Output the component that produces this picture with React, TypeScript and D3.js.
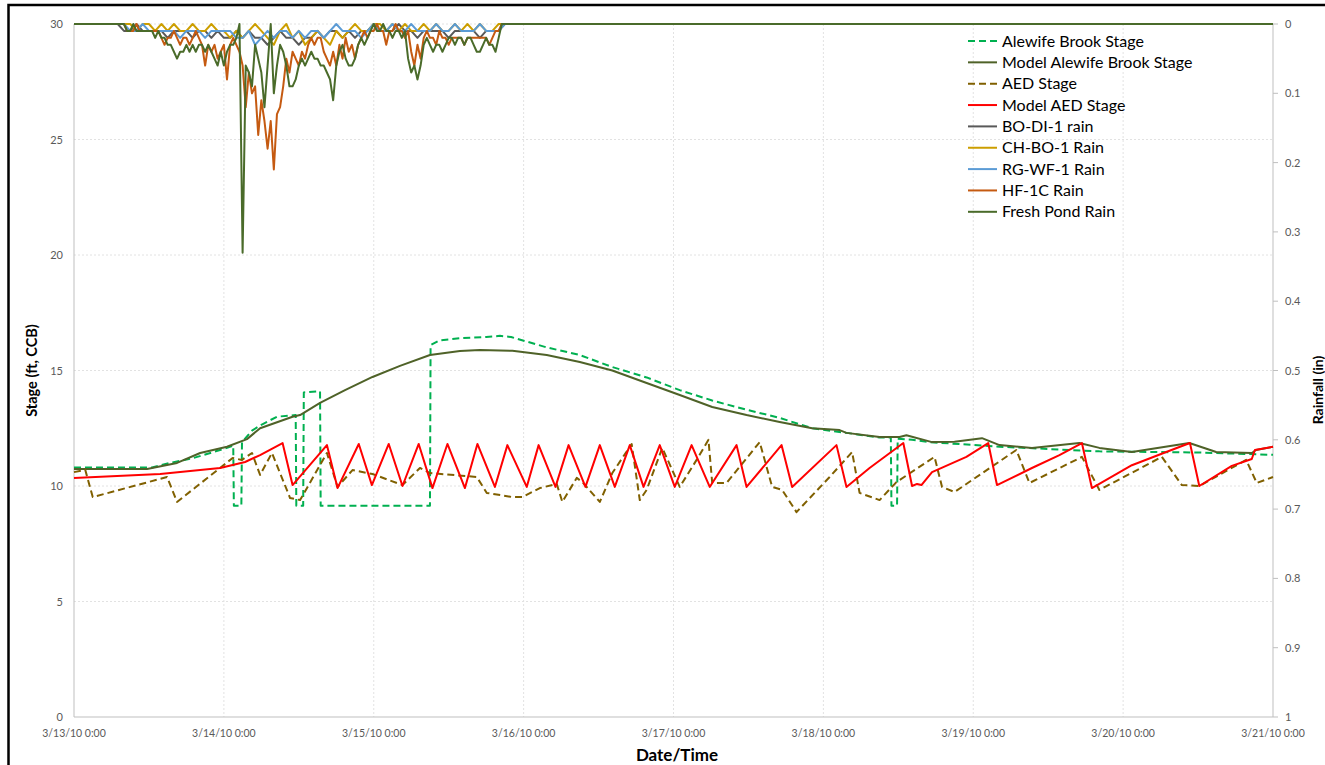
import React from 'react';
import * as d3 from 'd3';

// ---- Axis ticks ----
const dayLabels = [
  '3/13/10 0:00', '3/14/10 0:00', '3/15/10 0:00', '3/16/10 0:00', '3/17/10 0:00',
  '3/18/10 0:00', '3/19/10 0:00', '3/20/10 0:00', '3/21/10 0:00',
];
const stageTicks = [0, 5, 10, 15, 20, 25, 30];
const rainTicks = [0, 0.1, 0.2, 0.3, 0.4, 0.5, 0.6, 0.7, 0.8, 0.9, 1];
const rainTickLabels = ['0', '0.1', '0.2', '0.3', '0.4', '0.5', '0.6', '0.7', '0.8', '0.9', '1'];

// ---- Stage series (hours since 3/13 0:00, ft CCB) ----
const alewifeHours = [0, 12.5, 15.4, 19, 24.5, 25.5, 25.6, 26.8, 26.9, 28.5, 30, 32.5, 35.5, 35.6, 36.7, 36.8, 39.4, 39.5, 57.0, 57.1, 58.5, 62, 66, 68.2, 70, 75.7, 81, 86.2, 91.7, 97, 102.2, 107.7, 113, 118.2, 123.7, 129, 130.8, 130.9, 131.8, 131.9, 134.2, 137, 148.2, 164.2, 180.2, 192];
const alewifeStage = [10.8, 10.8, 11.0, 11.2, 11.65, 11.75, 9.15, 9.15, 11.9, 12.4, 12.65, 13.0, 13.07, 9.15, 9.15, 14.05, 14.1, 9.15, 9.15, 16.1, 16.3, 16.4, 16.45, 16.5, 16.45, 16.0, 15.67, 15.15, 14.7, 14.15, 13.7, 13.3, 12.95, 12.5, 12.3, 12.1, 12.1, 9.15, 9.15, 12.05, 12.0, 11.9, 11.7, 11.5, 11.45, 11.35];

const modelAlewifeHours = [0, 11.7, 16.5, 20.2, 24.5, 27.7, 29.8, 35.0, 36.2, 39.4, 43.4, 47.8, 52.2, 57, 61.8, 65, 70.2, 75.7, 81, 86.2, 91.7, 97, 102.2, 107.7, 113, 118.2, 122.6, 123.7, 129, 132.2, 133.3, 137.4, 141, 145.4, 148.2, 153.4, 161, 164.2, 169.4, 178.6, 182.9, 188.6, 189.3, 192];
const modelAlewifeStage = [10.74, 10.74, 11.0, 11.43, 11.7, 12.03, 12.5, 13.0, 13.07, 13.6, 14.15, 14.72, 15.2, 15.67, 15.84, 15.89, 15.85, 15.67, 15.37, 15.0, 14.46, 13.94, 13.42, 13.07, 12.77, 12.5, 12.42, 12.3, 12.12, 12.12, 12.2, 11.9, 11.92, 12.07, 11.77, 11.65, 11.86, 11.65, 11.47, 11.86, 11.47, 11.43, 11.56, 11.7];

const aedHours = [0, 1.8, 3.0, 14.9, 16.5, 25.4, 26.9, 28.5, 29.8, 31.7, 34.6, 36.2, 40.5, 42.2, 44.6, 47.8, 52.6, 55.4, 57.0, 64.5, 66.1, 70.2, 71.8, 74.6, 77.3, 78.2, 80.5, 81.4, 84.2, 86.2, 89.3, 90.6, 91.7, 94.2, 95.8, 97.0, 99.7, 101.6, 102.2, 104.5, 109.8, 111.8, 113.4, 115.7, 121.0, 124.6, 125.8, 129.0, 131.7, 137.8, 139.0, 141.0, 150.9, 153.0, 161.4, 164.2, 174.2, 177.4, 180.2, 187.7, 189.4, 192];
const aedStage = [10.6, 10.7, 9.52, 10.39, 9.31, 11.21, 11.13, 11.43, 10.48, 11.43, 9.48, 9.39, 11.43, 9.96, 10.69, 10.52, 10.04, 10.78, 10.56, 10.39, 9.7, 9.52, 9.52, 9.91, 10.09, 9.31, 10.35, 10.17, 9.31, 10.56, 11.82, 9.39, 9.83, 11.65, 10.69, 9.96, 11.13, 12.0, 10.13, 10.13, 11.9, 9.96, 9.83, 8.87, 10.39, 11.47, 9.7, 9.39, 10.17, 11.26, 9.96, 9.74, 11.56, 10.13, 11.26, 9.83, 11.26, 10.04, 10.0, 11.13, 10.13, 10.39];

const modelAedHours = [0, 13.8, 23.4, 27.4, 29.8, 33.4, 35.0, 40.5, 42.2, 45.6, 47.7, 50.4, 52.6, 55.2, 57.4, 59.8, 62.6, 64.6, 67.4, 69.4, 72.5, 74.4, 77.1, 79.2, 81.9, 84.2, 86.6, 89.0, 91.2, 93.8, 96.2, 98.9, 101.8, 106.1, 107.7, 113.3, 115.0, 122.1, 123.7, 127.4, 132.8, 134.2, 135.0, 135.7, 137.4, 142.9, 146.4, 147.8, 153.4, 157.8, 161.4, 163.0, 169.4, 174.9, 178.7, 180.2, 185.4, 188.6, 189.1, 192];
const modelAedStage = [10.35, 10.52, 10.78, 11.04, 11.34, 11.86, 10.04, 11.77, 9.91, 11.82, 10.04, 11.82, 10.0, 11.82, 9.91, 11.82, 9.91, 11.82, 9.96, 11.77, 9.96, 11.77, 9.96, 11.77, 9.96, 11.77, 9.96, 11.77, 9.96, 11.77, 9.96, 11.77, 9.96, 11.77, 9.96, 11.77, 9.96, 11.77, 9.96, 10.78, 11.86, 10.0, 10.09, 10.04, 10.6, 11.26, 11.86, 10.04, 10.78, 11.34, 11.86, 9.91, 10.9, 11.47, 11.86, 10.0, 10.87, 11.17, 11.56, 11.7];

// ---- Rainfall (in) ----
// half-hourly gauges, first reading at hour 8.5
const halfHourStart = 8.5;
const freshPondRain = [
  0.01, 0.01, 0, 0.01, 0.01, 0.01, 0.01, 0.01, 0.01, 0.02,
  0.01, 0.02, 0.02, 0.03, 0.03, 0.04, 0.05, 0.04, 0.04, 0.03,
  0.04, 0.03, 0.04, 0.03, 0.03, 0.04, 0.03, 0.04, 0.05, 0.06,
  0.04, 0.06, 0.04, 0.03, 0.03, 0.02, 0, 0.33, 0.06, 0.07,
  0.09, 0.03, 0.05, 0.07, 0.12, 0.06, 0, 0.10, 0.06, 0.03,
  0.04, 0.06, 0.09, 0.09, 0.08, 0.06, 0.05, 0.06, 0.05, 0.04,
  0.05, 0.05, 0.06, 0.06, 0.07, 0.08, 0.11, 0.06, 0.04, 0.03,
  0.05, 0.06, 0.06, 0.05, 0.03, 0.02, 0.03, 0.02, 0.01, 0,
  0.01, 0.01, 0, 0.01, 0.01, 0.02, 0.01, 0.01, 0.02, 0.01,
  0.05, 0.07, 0.06, 0.08, 0.06, 0.03, 0.02, 0.03, 0.04, 0.03,
  0.03, 0.04, 0.03, 0.02, 0.02, 0.03, 0.02, 0.02, 0.03, 0.02,
  0.02, 0.03, 0.04, 0.04, 0.03, 0.02, 0.03, 0.03, 0.04, 0.02, 0,
];
const hf1cRain = [
  0.01, 0.01, 0.01, 0, 0.01, 0.01, 0.01, 0.01, 0.01, 0.01,
  0.01, 0.02, 0.03, 0.02, 0.02, 0.01, 0.02, 0.03, 0.02, 0.02,
  0.03, 0.02, 0.01, 0.02, 0.03, 0.06, 0.03, 0.04, 0.03, 0.05,
  0.04, 0.03, 0.08, 0.03, 0.02, 0.03, 0.04, 0.06, 0.12, 0.07,
  0.10, 0.09, 0.16, 0.11, 0.14, 0.18, 0.14, 0.21, 0.13, 0.12,
  0.09, 0.05, 0.07, 0.04, 0.05, 0.06, 0.04, 0.05, 0.03, 0.02,
  0.03, 0.02, 0.02, 0.04, 0.05, 0.06, 0.04, 0.06, 0.03, 0.05,
  0.02, 0.04, 0.03, 0.05, 0.03, 0.02, 0.01, 0.02, 0.01, 0.01,
  0, 0.01, 0.01, 0.03, 0.01, 0.01, 0, 0.01, 0.01, 0.02,
  0.01, 0.04, 0.06, 0.03, 0.05, 0.02, 0.01, 0.02, 0.02, 0.03,
  0.01, 0.02, 0.02, 0.03, 0.02, 0.02, 0.02, 0.02, 0.03, 0.02,
  0.02, 0.02, 0.02, 0.02, 0.02, 0.02, 0.03, 0.02, 0.01, 0.01, 0,
];
// hourly gauges, first reading at hour 8
const hourlyStart = 8;
const boDi1Rain = [
  0.01, 0.01, 0, 0.01, 0.01, 0.01, 0.01, 0.02, 0.01, 0.01,
  0.01, 0.02, 0.01, 0.01, 0.02, 0.01, 0.02, 0.02, 0.01, 0.02,
  0.01, 0.02, 0.02, 0.03, 0.02, 0.01, 0.02, 0.02, 0.03, 0.02,
  0.02, 0.01, 0.02, 0.01, 0.01, 0.02, 0.01, 0.02, 0.01, 0.01,
  0, 0.01, 0.01, 0.01, 0, 0.01, 0.01, 0.02, 0.01, 0.01,
  0.01, 0.01, 0.02, 0.01, 0.01, 0.01, 0.01, 0.02, 0.01, 0.01,
  0.01, 0,
];
const chBo1Rain = [
  0, 0, 0.01, 0, 0, 0.01, 0, 0.01, 0, 0.01,
  0.01, 0, 0.01, 0.01, 0, 0.01, 0.01, 0.02, 0.01, 0.02,
  0.01, 0, 0.01, 0.02, 0.03, 0.01, 0, 0.02, 0.01, 0.03,
  0.02, 0.01, 0.02, 0.03, 0.01, 0.02, 0.01, 0, 0.01, 0.01,
  0, 0, 0.01, 0, 0.01, 0, 0.01, 0.01, 0, 0.01,
  0, 0.01, 0.01, 0, 0.01, 0, 0.01, 0, 0.01, 0.01,
  0, 0,
];
const rgWf1Rain = [
  0, 0.01, 0.01, 0, 0.01, 0.01, 0.01, 0.01, 0.01, 0.02,
  0.01, 0.01, 0.01, 0.02, 0.01, 0.01, 0.01, 0.01, 0.02, 0.02,
  0.01, 0.03, 0.02, 0.01, 0.02, 0.01, 0.01, 0.02, 0.01, 0.02,
  0.01, 0.01, 0.02, 0.01, 0, 0.01, 0.01, 0.01, 0.02, 0.01,
  0, 0.01, 0.01, 0, 0.01, 0.01, 0, 0.01, 0.01, 0.01,
  0, 0.01, 0.01, 0, 0.01, 0.01, 0.01, 0, 0.01, 0.01,
  0.01, 0,
];

const TOTAL_HOURS = 192;
const FONT = 'Lato, "Open Sans", sans-serif';

type Pt = [number, number];

function pairSeries(hours: number[], vals: number[]): Pt[] {
  return hours.map((h, i) => [h, vals[i]] as Pt);
}

// rain gauge readings padded with zero rainfall over the rest of the week
function gaugeSeries(start: number, step: number, vals: number[]): Pt[] {
  const pts: Pt[] = [[0, 0], [start - step, 0]];
  vals.forEach((v, i) => pts.push([start + i * step, v]));
  pts.push([start + vals.length * step, 0], [TOTAL_HOURS, 0]);
  return pts;
}

const L = 74, R = 1273, T = 24, B = 717;

export default function App() {
  const x = d3.scaleLinear().domain([0, TOTAL_HOURS]).range([L, R]);
  const yStage = d3.scaleLinear().domain([0, 30]).range([B, T]);
  const yRain = d3.scaleLinear().domain([0, 1]).range([T, B]);

  const stageLine = d3.line<Pt>().x(d => x(d[0])).y(d => yStage(d[1]));
  const rainLine = d3.line<Pt>().x(d => x(d[0])).y(d => yRain(d[1]));

  const stageSeries = [
    { name: 'Alewife Brook Stage', color: '#00b050', dash: '7,4', pts: pairSeries(alewifeHours, alewifeStage) },
    { name: 'Model Alewife Brook Stage', color: '#4f6228', dash: '', pts: pairSeries(modelAlewifeHours, modelAlewifeStage) },
    { name: 'AED Stage', color: '#806000', dash: '7,4', pts: pairSeries(aedHours, aedStage) },
    { name: 'Model AED Stage', color: '#ff0000', dash: '', pts: pairSeries(modelAedHours, modelAedStage) },
  ];
  const rainSeries = [
    { name: 'BO-DI-1 rain', color: '#595959', pts: gaugeSeries(hourlyStart, 1, boDi1Rain) },
    { name: 'CH-BO-1 Rain', color: '#cc9e00', pts: gaugeSeries(hourlyStart, 1, chBo1Rain) },
    { name: 'RG-WF-1 Rain', color: '#5b9bd5', pts: gaugeSeries(hourlyStart, 1, rgWf1Rain) },
    { name: 'HF-1C Rain', color: '#c55a11', pts: gaugeSeries(halfHourStart, 0.5, hf1cRain) },
    { name: 'Fresh Pond Rain', color: '#4a6b2a', pts: gaugeSeries(halfHourStart, 0.5, freshPondRain) },
  ];

  const legendItems = [
    ...stageSeries.map(s => ({ name: s.name, color: s.color, dash: s.dash })),
    ...rainSeries.map(s => ({ name: s.name, color: s.color, dash: '' })),
  ];

  const dayTicks = dayLabels.map((_, i) => i * 24);
  const gridColor = '#e2e2e2';
  const axisColor = '#bfbfbf';
  const labelColor = '#595959';

  return (
    <svg width={1325} height={765} style={{ position: 'absolute', left: 0, top: 0, background: '#fff' }}>
      <rect x={0} y={0} width={1325} height={765} fill="#fff" />
      {/* gridlines */}
      {stageTicks.filter(t => t > 0).map(t => (
        <line key={'hg' + t} x1={L} x2={R} y1={yStage(t)} y2={yStage(t)} stroke={gridColor} strokeDasharray="2,2" />
      ))}
      {dayTicks.filter(h => h > 0 && h < TOTAL_HOURS).map(h => (
        <line key={'vg' + h} x1={x(h)} x2={x(h)} y1={T} y2={B} stroke={gridColor} strokeDasharray="2,2" />
      ))}
      {/* axes */}
      <line x1={L} x2={L} y1={T} y2={B} stroke={axisColor} />
      <line x1={L} x2={R} y1={B} y2={B} stroke={axisColor} />
      <line x1={R} x2={R} y1={T} y2={B} stroke={axisColor} />
      {rainTicks.map(t => (
        <line key={'rt' + t} x1={R} x2={R + 5} y1={yRain(t)} y2={yRain(t)} stroke={axisColor} />
      ))}
      {/* tick labels */}
      {stageTicks.map(t => (
        <text key={'sl' + t} x={L - 11} y={yStage(t) + 4} textAnchor="end" fontSize={11} fill={labelColor} fontFamily={FONT}>{t}</text>
      ))}
      {rainTicks.map((t, i) => (
        <text key={'rl' + t} x={R + 12} y={yRain(t) + 4} textAnchor="start" fontSize={11} fill={labelColor} fontFamily={FONT}>{rainTickLabels[i]}</text>
      ))}
      {dayTicks.map((h, i) => (
        <text key={'dl' + h} x={x(h)} y={737} textAnchor="middle" fontSize={10.5} fill={labelColor} fontFamily={FONT}>{dayLabels[i]}</text>
      ))}
      {/* axis titles */}
      <text x={677} y={761} textAnchor="middle" fontSize={17} fontWeight="bold" fill="#000" fontFamily={FONT}>Date/Time</text>
      <text transform={`translate(37,${(T + B) / 2}) rotate(-90)`} textAnchor="middle" fontSize={14.5} fontWeight="bold" fill="#000" fontFamily={FONT}>Stage (ft, CCB)</text>
      <text transform={`translate(1323,390) rotate(-90)`} textAnchor="middle" fontSize={14} fontWeight="bold" fill="#000" fontFamily={FONT}>Rainfall (in)</text>
      {/* stage series */}
      {stageSeries.map(s => (
        <path key={s.name} d={stageLine(s.pts) || ''} fill="none" stroke={s.color} strokeWidth={2} strokeDasharray={s.dash || undefined} strokeLinejoin="round" />
      ))}
      {/* rainfall series */}
      {rainSeries.map(s => (
        <path key={s.name} d={rainLine(s.pts) || ''} fill="none" stroke={s.color} strokeWidth={2} strokeLinejoin="round" />
      ))}
      {/* legend */}
      {legendItems.map((it, i) => {
        const yy = 41 + i * 21.35;
        return (
          <g key={'lg' + it.name}>
            <line x1={968} x2={997} y1={yy} y2={yy} stroke={it.color} strokeWidth={2} strokeDasharray={it.dash || undefined} />
            <text x={1002} y={yy + 5.5} fontSize={16} fill="#000" fontFamily={FONT}>{it.name}</text>
          </g>
        );
      })}
      {/* outer frame */}
      <path d="M8.5,765 V5 H1325" fill="none" stroke="#000" strokeWidth={2.5} />
    </svg>
  );
}
